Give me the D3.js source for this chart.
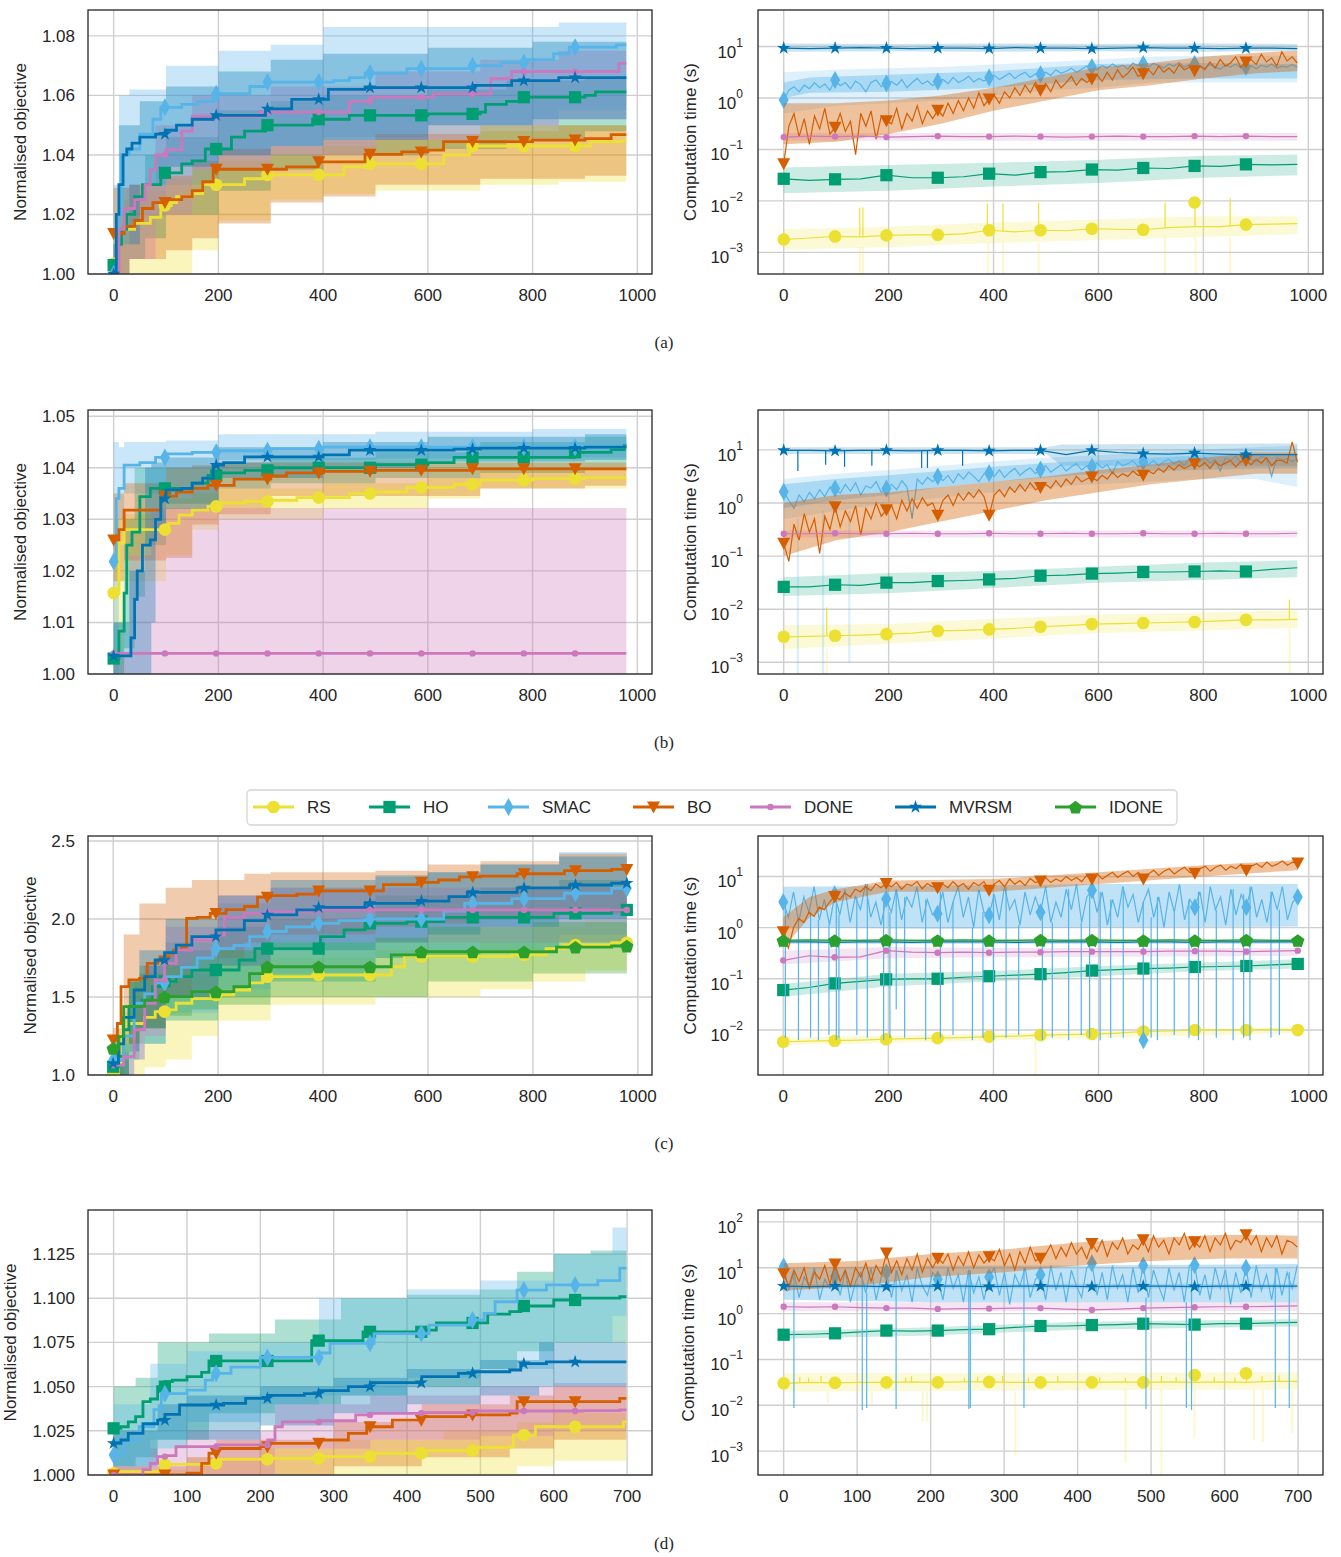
<!DOCTYPE html>
<html>
<head>
<meta charset="utf-8">
<script src="https://cdn.jsdelivr.net/npm/d3@7/dist/d3.min.js"></script>
<style>
  body { margin: 0; background: #fff; }
  text { font-family: "Liberation Sans", Arial, sans-serif; fill: #262626; }
</style>
</head>
<body>
<svg id="fig" width="1341" height="1557"></svg>
<script>
const methods = ["RS", "HO", "SMAC", "BO", "DONE", "MVRSM", "IDONE"];

// ---------- normalised objective: [iteration, value] at each step ----------
const objMeanA = {
  RS: [[0,1.0035],[5,1.015],[40,1.017],[70,1.019],[90,1.023],[110,1.024],[120,1.026],[150,1.027],[170,1.030],[250,1.032],[290,1.0333],[440,1.036],[480,1.037],[630,1.040],[680,1.043],[910,1.0445],[970,1.0448]],
  HO: [[0,1.003],[8,1.01],[15,1.015],[25,1.02],[40,1.026],[55,1.03],[90,1.034],[130,1.037],[150,1.038],[175,1.042],[225,1.046],[250,1.048],[290,1.05],[380,1.052],[450,1.0533],[600,1.0538],[700,1.0544],[710,1.057],[750,1.058],[780,1.0594],[900,1.06],[920,1.0612]],
  SMAC: [[0,1.0],[8,1.02],[15,1.04],[30,1.042],[50,1.047],[75,1.052],[90,1.056],[130,1.057],[160,1.058],[190,1.0606],[260,1.063],[290,1.0645],[420,1.065],[450,1.066],[480,1.0675],[560,1.069],[680,1.07],[740,1.071],[790,1.072],[840,1.074],[870,1.0762],[960,1.077]],
  BO: [[0,1.0136],[20,1.016],[40,1.018],[55,1.022],[75,1.024],[100,1.025],[130,1.026],[150,1.028],[170,1.031],[190,1.0352],[330,1.036],[390,1.0377],[480,1.0402],[550,1.041],[600,1.0416],[630,1.0445],[800,1.045],[900,1.0455],[950,1.0468]],
  DONE: [[0,1.0],[10,1.015],[20,1.022],[40,1.025],[60,1.03],[70,1.035],[80,1.04],[100,1.0418],[130,1.048],[150,1.053],[280,1.0544],[450,1.058],[490,1.0594],[610,1.0605],[720,1.0656],[760,1.068],[965,1.0708]],
  MVRSM: [[0,1.0],[5,1.02],[10,1.03],[18,1.04],[25,1.042],[35,1.044],[50,1.046],[80,1.047],[100,1.0483],[120,1.05],[150,1.052],[190,1.0533],[290,1.0555],[340,1.0587],[410,1.062],[480,1.0626],[690,1.0634],[760,1.065],[850,1.066]]
};
// [iteration, lower, upper]
const objBandA = {
  RS: [[0,1.0,1.015],[20,1.0,1.025],[60,1.0,1.028],[100,1.0,1.032],[150,1.008,1.035],[200,1.018,1.038],[300,1.025,1.04],[400,1.027,1.043],[500,1.028,1.045],[700,1.03,1.048],[850,1.031,1.05]],
  HO: [[0,1.0,1.01],[30,1.005,1.03],[60,1.012,1.04],[100,1.02,1.046],[200,1.028,1.055],[300,1.035,1.058],[400,1.04,1.06],[600,1.042,1.062],[750,1.045,1.065],[900,1.048,1.066]],
  SMAC: [[0,1.0,1.03],[10,1.01,1.06],[30,1.02,1.062],[100,1.03,1.07],[200,1.04,1.075],[300,1.043,1.077],[400,1.046,1.083],[600,1.05,1.083],[850,1.055,1.0845]],
  BO: [[0,1.0,1.029],[30,1.005,1.03],[100,1.008,1.033],[150,1.012,1.038],[200,1.017,1.042],[300,1.024,1.043],[400,1.026,1.045],[500,1.03,1.047],[700,1.032,1.05],[900,1.033,1.05]],
  DONE: [[0,1.0,1.01],[30,1.005,1.03],[80,1.02,1.05],[150,1.035,1.06],[300,1.04,1.063],[500,1.045,1.068],[700,1.05,1.072],[850,1.052,1.075]],
  MVRSM: [[0,1.0,1.01],[10,1.01,1.05],[50,1.03,1.058],[100,1.036,1.063],[200,1.04,1.068],[300,1.043,1.072],[400,1.045,1.074],[600,1.05,1.076],[800,1.052,1.078]]
};

const objMeanB = {
  RS: [[0,1.0157],[10,1.0254],[20,1.028],[105,1.0292],[125,1.0308],[150,1.0318],[180,1.0325],[200,1.0332],[250,1.0335],[300,1.0337],[350,1.0342],[450,1.035],[500,1.0353],[560,1.0362],[650,1.0368],[700,1.0376],[800,1.0379],[900,1.0381]],
  HO: [[0,1.003],[10,1.0083],[20,1.0157],[25,1.025],[35,1.0275],[50,1.0344],[70,1.036],[150,1.037],[180,1.0385],[200,1.039],[250,1.0395],[300,1.04],[500,1.0406],[600,1.041],[650,1.042],[880,1.043],[950,1.0435],[975,1.0443]],
  SMAC: [[0,1.0218],[5,1.034],[10,1.036],[20,1.0405],[50,1.041],[80,1.042],[100,1.0427],[150,1.043],[200,1.0433],[300,1.0437],[400,1.044]],
  BO: [[0,1.026],[10,1.028],[20,1.0318],[90,1.0345],[120,1.0353],[150,1.036],[180,1.0366],[230,1.0378],[300,1.0384],[330,1.039],[400,1.0393],[500,1.0395],[680,1.0398]],
  DONE: [[0,1.004]],
  MVRSM: [[0,1.0035],[33,1.007],[40,1.0145],[45,1.02],[55,1.025],[70,1.026],[80,1.03],[90,1.034],[100,1.0357],[130,1.036],[150,1.037],[170,1.038],[190,1.0405],[210,1.041],[250,1.0421],[400,1.0425],[450,1.0434],[650,1.0436],[700,1.0438],[900,1.044]]
};
const objBandB = {
  RS: [[0,1.0,1.03],[20,1.018,1.031],[100,1.023,1.034],[150,1.028,1.035],[200,1.03,1.036],[400,1.032,1.037],[600,1.034,1.038],[700,1.036,1.0395],[900,1.036,1.04]],
  HO: [[0,1.0,1.01],[20,1.005,1.03],[40,1.015,1.04],[60,1.025,1.04],[100,1.033,1.04],[200,1.036,1.041],[300,1.037,1.042],[500,1.038,1.043],[700,1.039,1.045],[900,1.04,1.046]],
  SMAC: [[0,1.0,1.045],[10,1.03,1.044],[20,1.035,1.045],[100,1.04,1.0453],[200,1.0415,1.0465],[500,1.0418,1.047],[800,1.042,1.0475]],
  BO: [[0,1.018,1.035],[20,1.022,1.037],[100,1.0225,1.04],[150,1.029,1.0405],[200,1.031,1.041],[300,1.0345,1.041],[700,1.036,1.041],[900,1.0365,1.041]],
  DONE: [[0,1.0,1.004],[30,1.0,1.023],[72,1.0,1.0322]],
  MVRSM: [[0,1.0,1.01],[30,1.0,1.02],[60,1.0,1.04],[72,1.01,1.041],[80,1.028,1.041],[100,1.032,1.042],[200,1.038,1.044],[400,1.04,1.045],[600,1.0412,1.046],[900,1.0415,1.0465]]
};

const objMeanC = {
  RS: [[0,1.0],[10,1.075],[18,1.33],[60,1.37],[80,1.406],[98,1.417],[120,1.46],[150,1.49],[190,1.513],[230,1.545],[260,1.59],[285,1.63],[380,1.641],[530,1.694],[555,1.76],[760,1.77],[825,1.81],[860,1.833],[950,1.848]],
  HO: [[0,1.053],[10,1.12],[20,1.29],[30,1.44],[55,1.48],[75,1.566],[95,1.6],[120,1.63],[150,1.673],[240,1.737],[270,1.81],[395,1.887],[440,1.93],[480,1.972],[560,1.983],[630,2.01],[840,2.036],[950,2.058]],
  SMAC: [[0,1.096],[20,1.25],[40,1.46],[60,1.52],[80,1.59],[98,1.63],[130,1.69],[160,1.75],[190,1.81],[230,1.83],[260,1.887],[290,1.92],[330,1.95],[380,1.972],[430,1.99],[480,2.0],[630,2.05],[670,2.1],[760,2.13],[860,2.165],[950,2.197]],
  BO: [[0,1.224],[8,1.33],[15,1.566],[30,1.61],[50,1.62],[65,1.716],[85,1.73],[100,1.78],[115,1.8],[130,1.82],[140,2.004],[160,2.01],[185,2.036],[215,2.06],[250,2.08],[275,2.14],[300,2.15],[350,2.16],[385,2.18],[515,2.22],[580,2.235],[620,2.25],[660,2.27],[700,2.275],[770,2.29],[860,2.31],[950,2.318]],
  DONE: [[0,1.064],[20,1.117],[40,1.29],[60,1.46],[80,1.61],[98,1.716],[120,1.8],[150,1.865],[190,1.897],[212,2.01],[250,2.036],[290,2.047],[380,2.058]],
  MVRSM: [[0,1.075],[10,1.2],[20,1.37],[40,1.545],[60,1.63],[80,1.737],[98,1.784],[120,1.833],[150,1.887],[196,1.93],[250,1.99],[290,2.026],[350,2.058],[388,2.075],[480,2.1],[580,2.115],[640,2.143],[675,2.17],[770,2.2],[870,2.218],[950,2.229]],
  IDONE: [[0,1.171],[10,1.246],[20,1.438],[40,1.44],[60,1.48],[95,1.502],[150,1.534],[230,1.566],[260,1.65],[285,1.694],[530,1.77],[580,1.79],[845,1.82],[950,1.827]]
};
const objBandC = {
  RS: [[0,1.0,1.05],[20,1.0,1.4],[60,1.05,1.5],[100,1.1,1.6],[150,1.25,1.65],[200,1.35,1.7],[300,1.45,1.75],[500,1.5,1.8],[700,1.55,1.85],[800,1.6,1.95],[900,1.67,2.0]],
  HO: [[0,1.0,1.1],[30,1.1,1.6],[50,1.2,1.7],[100,1.35,1.8],[200,1.5,1.95],[300,1.6,2.0],[500,1.75,2.15],[700,1.8,2.2],[850,1.85,2.25]],
  SMAC: [[0,1.0,1.15],[40,1.1,1.6],[60,1.2,1.7],[100,1.4,1.85],[200,1.55,2.1],[300,1.65,2.2],[500,1.75,2.27],[600,1.78,2.3],[700,1.8,2.35],[850,1.9,2.43]],
  BO: [[0,1.0,1.3],[20,1.2,1.9],[50,1.3,2.1],[100,1.5,2.2],[150,1.75,2.25],[250,1.85,2.29],[300,1.9,2.3],[500,1.95,2.31],[600,1.97,2.35],[700,2.0,2.37],[850,2.03,2.42]],
  DONE: [[0,1.0,1.1],[40,1.1,1.5],[60,1.25,1.7],[100,1.5,1.95],[200,1.7,2.15],[300,1.85,2.2],[970,1.85,2.25]],
  MVRSM: [[0,1.0,1.2],[30,1.15,1.6],[50,1.3,1.8],[100,1.5,2.0],[200,1.7,2.15],[300,1.8,2.25],[500,1.85,2.28],[600,1.9,2.3],[700,1.95,2.35],[850,2.0,2.4]],
  IDONE: [[0,1.0,1.25],[30,1.2,1.6],[50,1.3,1.65],[100,1.38,1.7],[150,1.42,1.75],[200,1.45,1.8],[300,1.5,1.85],[500,1.5,1.88],[600,1.6,1.95],[800,1.65,1.98]]
};

const objMeanD = {
  RS: [[0,1.001],[10,1.0019],[60,1.0023],[65,1.006],[130,1.0066],[140,1.0089],[210,1.0094],[280,1.0104],[355,1.0123],[420,1.0138],[490,1.0156],[540,1.016],[545,1.0226],[575,1.0273],[695,1.03]],
  HO: [[0,1.0264],[10,1.0273],[20,1.03],[30,1.033],[40,1.0415],[50,1.043],[60,1.05],[70,1.0528],[80,1.0537],[100,1.0556],[120,1.058],[130,1.0645],[270,1.076],[340,1.081],[420,1.082],[440,1.086],[510,1.091],[540,1.0924],[555,1.0956],[600,1.099],[630,1.1],[690,1.1009]],
  SMAC: [[0,1.0113],[15,1.0198],[35,1.0273],[55,1.037],[65,1.046],[100,1.048],[125,1.0537],[135,1.0575],[160,1.061],[200,1.0665],[280,1.069],[295,1.0745],[355,1.08],[430,1.0848],[485,1.0877],[505,1.0914],[520,1.098],[550,1.1046],[590,1.1075],[660,1.11],[690,1.117]],
  BO: [[0,1.0],[100,1.001],[120,1.0066],[130,1.0123],[140,1.015],[200,1.016],[210,1.0179],[280,1.0198],[320,1.0236],[345,1.0273],[380,1.031],[420,1.033],[480,1.034],[540,1.035],[550,1.0415],[690,1.0434]],
  DONE: [[0,1.0],[35,1.0],[40,1.003],[50,1.0066],[60,1.0104],[70,1.011],[85,1.016],[140,1.017],[210,1.0198],[220,1.0273],[230,1.03],[280,1.0307],[330,1.034],[350,1.0349],[420,1.0353],[490,1.0362],[640,1.0364],[690,1.0368]],
  MVRSM: [[0,1.0179],[10,1.0198],[20,1.0236],[40,1.029],[60,1.031],[70,1.0343],[90,1.0396],[150,1.0405],[180,1.0434],[210,1.045],[260,1.046],[280,1.0477],[320,1.05],[350,1.0522],[420,1.0556],[470,1.0575],[490,1.0584],[540,1.0594],[555,1.063],[590,1.064]]
};
const objBandD = {
  RS: [[0,1.0,1.003],[100,1.0,1.01],[200,1.0,1.015],[300,1.0,1.02],[450,1.0,1.025],[550,1.005,1.03],[600,1.008,1.035]],
  HO: [[0,1.005,1.05],[30,1.01,1.055],[60,1.02,1.075],[130,1.035,1.08],[220,1.04,1.088],[310,1.045,1.1],[400,1.05,1.102],[500,1.06,1.105],[550,1.07,1.115],[600,1.075,1.125],[650,1.075,1.127]],
  SMAC: [[0,1.003,1.04],[50,1.02,1.063],[100,1.03,1.07],[200,1.04,1.075],[280,1.045,1.1],[400,1.055,1.105],[500,1.06,1.11],[600,1.075,1.125],[680,1.09,1.14]],
  BO: [[0,1.0,1.005],[100,1.0,1.01],[140,1.0,1.02],[300,1.005,1.03],[420,1.01,1.04],[540,1.015,1.045],[600,1.02,1.05]],
  DONE: [[0,1.0,1.005],[50,1.0,1.015],[100,1.0,1.025],[220,1.015,1.04],[350,1.02,1.045],[500,1.022,1.05],[600,1.025,1.052]],
  MVRSM: [[0,1.005,1.025],[60,1.015,1.04],[100,1.02,1.045],[200,1.028,1.05],[300,1.035,1.055],[400,1.04,1.06],[500,1.045,1.065],[580,1.05,1.075]]
};

// ---------- computation time: log10(seconds), evenly spaced over the run ----------
const timeA = {
  RS: [-2.75,-2.72,-2.69,-2.7,-2.67,-2.66,-2.66,-2.64,-2.57,-2.6,-2.57,-2.58,-2.54,-2.55,-2.56,-2.52,-2.5,-2.5,-2.46,-2.45,-2.44],
  HO: [-1.57,-1.6,-1.58,-1.57,-1.5,-1.55,-1.55,-1.53,-1.47,-1.5,-1.44,-1.43,-1.39,-1.4,-1.36,-1.37,-1.32,-1.33,-1.29,-1.3,-1.29],
  SMAC: [-0.04,0.15,0.22,0.12,0.25,0.18,0.3,0.2,0.27,0.15,0.35,
    0.24,0.3,0.18,0.33,0.26,0.12,0.3,0.35,0.22,0.28,
    0.32,0.25,0.36,0.2,0.3,0.38,0.27,0.33,0.24,0.32,
    0.36,0.28,0.4,0.3,0.35,0.42,0.31,0.38,0.33,0.4,
    0.44,0.36,0.42,0.48,0.38,0.45,0.5,0.4,0.47,0.46,
    0.5,0.44,0.55,0.48,0.52,0.58,0.5,0.56,0.62,0.6,
    0.55,0.63,0.58,0.66,0.6,0.64,0.56,0.68,0.62,0.66,
    0.6,0.67,0.63,0.58,0.66,0.62,0.69,0.6,0.65,0.66,
    0.62,0.58,0.65,0.6,0.56,0.64,0.6,0.66,0.58,0.6,
    0.63,0.57,0.64,0.6,0.66,0.58,0.62,0.6,0.65,0.6],
  BO: [-1.28,-0.55,-0.3,-0.75,-0.4,-0.9,-0.35,-0.6,-0.2,-0.7,-0.57,
    -0.3,-0.65,-0.45,-1.1,-0.3,-0.55,-0.25,-0.8,-0.35,-0.44,
    -0.5,-0.2,-0.6,-0.3,-0.45,-0.15,-0.5,-0.25,-0.4,-0.24,
    -0.35,-0.1,-0.3,-0.05,-0.25,0.0,-0.2,0.1,-0.15,-0.02,
    0.05,-0.1,0.12,0.0,0.2,0.05,0.25,0.1,0.3,0.15,
    0.28,0.12,0.35,0.2,0.3,0.42,0.25,0.38,0.3,0.37,
    0.45,0.32,0.5,0.35,0.55,0.4,0.48,0.6,0.42,0.47,
    0.55,0.45,0.62,0.5,0.58,0.48,0.65,0.55,0.6,0.53,
    0.62,0.55,0.7,0.58,0.75,0.62,0.68,0.8,0.6,0.7,
    0.75,0.65,0.85,0.7,0.78,0.62,0.9,0.72,0.8,0.68],
  DONE: [-0.76,-0.74,-0.75,-0.74,-0.76,-0.75,-0.74,-0.75,-0.75,-0.74,-0.75,-0.76,-0.75,-0.74,-0.75,-0.75,-0.74,-0.75,-0.74,-0.75,-0.75],
  MVRSM: [0.97,0.96,0.97,0.98,0.97,0.96,0.97,0.97,0.96,0.98,0.97,0.97,0.96,0.97,0.98,0.97,0.97,0.96,0.97,0.97,0.96]
};
const spikeA = { RS: [[145,-2.13],[151,-2.13],[388,-2.05],[418,-2.05],[486,-2.03],[727,-2.03],[784,-2.03],[851,-1.95]] };
// spread of the dense per-iteration noise: [iteration, low, high]
const envA = {
  SMAC: [[0,0.0,0.3],[50,0.1,0.4],[200,0.12,0.45],[400,0.2,0.52],[600,0.35,0.66],[800,0.38,0.68],[979,0.38,0.66]],
  BO: [[0,-0.9,-0.1],[100,-0.85,-0.1],[200,-0.7,-0.05],[300,-0.5,0.05],[400,-0.25,0.2],[500,-0.05,0.4],[600,0.15,0.6],[700,0.25,0.68],[800,0.38,0.8],[900,0.48,0.88],[979,0.52,0.92]]
};
const timeBandA = {
  RS: [[0,-2.95,-2.55],[200,-2.9,-2.5],[400,-2.82,-2.42],[600,-2.76,-2.36],[800,-2.7,-2.3],[979,-2.65,-2.3]],
  HO: [[0,-1.85,-1.35],[200,-1.8,-1.3],[400,-1.72,-1.26],[600,-1.65,-1.2],[800,-1.55,-1.12],[979,-1.5,-1.1]],
  SMAC: [[0,-0.3,0.5],[100,-0.15,0.55],[200,-0.1,0.58],[300,-0.05,0.6],[400,0.05,0.65],[500,0.15,0.7],[600,0.2,0.75],[700,0.3,0.8],[800,0.3,0.82],[979,0.3,0.82]],
  DONE: [[0,-0.83,-0.68],[979,-0.83,-0.68]],
  MVRSM: [[0,0.9,1.06],[200,0.91,1.05],[400,0.9,1.06],[600,0.91,1.05],[800,0.9,1.06],[979,0.91,1.05]]
};
const dipA = { RS: [[145,-3.42],[151,-3.42],[390,-3.42],[418,-3.42],[486,-3.42],[727,-3.42],[785,-3.42],[851,-3.42]] };

const timeB = {
  RS: [-2.52,-2.51,-2.5,-2.49,-2.47,-2.45,-2.41,-2.4,-2.38,-2.36,-2.33,-2.31,-2.28,-2.27,-2.26,-2.25,-2.24,-2.22,-2.2,-2.2,-2.19],
  HO: [-1.58,-1.58,-1.54,-1.55,-1.5,-1.5,-1.47,-1.46,-1.44,-1.42,-1.37,-1.36,-1.33,-1.32,-1.3,-1.3,-1.29,-1.28,-1.29,-1.25,-1.22],
  SMAC: [0.21,0.05,-0.1,0.15,0.02,0.2,0.08,0.25,0.12,0.3,0.27,
    0.18,0.35,0.22,0.38,0.15,0.32,0.28,0.4,0.2,0.27,
    0.35,0.25,0.42,0.3,-0.3,0.45,0.35,0.48,0.4,0.5,
    0.42,0.52,0.38,0.55,0.45,0.58,0.5,0.4,0.55,0.56,
    0.5,0.62,0.48,0.58,0.65,0.52,0.6,0.66,0.55,0.63,
    0.7,0.58,0.65,0.72,0.6,0.68,0.74,0.62,0.7,0.68,
    0.75,0.66,0.72,0.55,0.78,0.7,0.74,0.8,0.68,0.77,
    0.72,0.8,0.7,0.78,0.82,0.74,0.8,0.7,0.85,0.83,
    0.78,0.86,0.75,0.82,0.6,0.85,0.8,0.88,0.76,0.86,
    0.82,0.78,0.88,0.84,0.5,0.86,0.8,0.84,0.78,0.83],
  BO: [-0.76,-1.1,-0.4,-0.7,-0.2,-0.55,-0.3,-0.95,-0.25,-0.5,-0.07,
    -0.45,-0.15,-0.35,-0.05,-0.6,-0.1,-0.3,0.0,-0.25,-0.13,
    -0.05,-0.3,0.05,-0.15,0.08,-0.1,0.1,-0.05,0.0,-0.23,
    0.05,0.15,-0.05,0.18,0.05,0.2,0.1,0.25,0.12,-0.23,
    0.15,0.25,0.12,0.3,0.2,0.35,0.22,0.38,0.25,0.29,
    0.35,0.28,0.42,0.3,0.45,0.35,0.5,0.4,0.45,0.49,
    0.42,0.52,0.45,0.58,0.48,0.55,0.5,0.6,0.52,0.52,
    0.6,0.55,0.65,0.58,0.7,0.62,0.72,0.65,0.7,0.74,
    0.68,0.76,0.65,0.78,0.7,0.75,0.8,0.68,0.78,0.8,
    0.72,0.82,0.75,0.85,0.7,0.8,0.8,0.75,1.15,0.77],
  DONE: [-0.58,-0.58,-0.57,-0.58,-0.58,-0.57,-0.58,-0.58,-0.57,-0.58,-0.58,-0.57,-0.58,-0.58,-0.57,-0.58,-0.58,-0.57,-0.58,-0.58,-0.57],
  MVRSM: [0.99,0.99,0.98,0.99,0.99,0.98,0.99,0.99,0.98,0.99,0.99,0.91,0.99,0.95,0.93,0.92,0.94,0.92,0.91,0.91,0.91]
};
const spikeB = {
  RS: [[82,-1.97],[964,-1.82]],
  MVRSM: [[27,0.6],[80,0.72],[116,0.68],[168,0.7],[263,0.66],[274,0.66],[341,0.7]]
};
const envB = {
  SMAC: [[0,-0.1,0.35],[100,0.05,0.45],[200,0.15,0.52],[300,0.3,0.6],[400,0.4,0.68],[500,0.48,0.75],[600,0.55,0.8],[700,0.6,0.85],[800,0.62,0.9],[900,0.65,0.92],[979,0.65,0.92]],
  BO: [[0,-1.0,0.0],[100,-0.7,0.15],[200,-0.55,0.2],[300,-0.35,0.3],[400,-0.15,0.4],[500,0.05,0.5],[600,0.2,0.62],[700,0.35,0.72],[800,0.45,0.85],[900,0.55,0.95],[979,0.55,0.95]]
};
const timeBandB = {
  RS: [[0,-2.75,-2.3],[200,-2.65,-2.28],[400,-2.55,-2.18],[600,-2.45,-2.1],[800,-2.4,-2.06],[979,-2.35,-2.02]],
  HO: [[0,-1.75,-1.4],[200,-1.7,-1.32],[400,-1.6,-1.28],[600,-1.5,-1.2],[800,-1.45,-1.12],[979,-1.4,-1.08]],
  SMAC: [[0,-0.3,0.45],[100,-0.15,0.55],[200,0.0,0.62],[300,0.1,0.7],[400,0.2,0.78],[500,0.3,0.85],[600,0.35,0.9],[700,0.4,0.95],[800,0.45,1.0],[900,0.45,1.05],[979,0.3,1.08]],
  DONE: [[0,-0.65,-0.52],[979,-0.65,-0.52]],
  MVRSM: [[0,0.92,1.05],[500,0.92,1.05],[530,0.7,1.1],[979,0.7,1.12]]
};
const dipB = { RS: [[82,-3.22],[964,-3.22]], SMAC: [[27,-3.22],[75,-3.22],[125,-3.0]] };

const timeC = {
  RS: [-2.23,-2.22,-2.21,-2.2,-2.18,-2.17,-2.16,-2.15,-2.13,-2.12,-2.1,-2.09,-2.08,-2.06,-2.03,-2.02,-2.0,-2.0,-2.0,-1.99,-2.0],
  HO: [-1.22,-1.17,-1.09,-1.05,-1.01,-1.0,-1.0,-0.97,-0.95,-0.93,-0.91,-0.88,-0.84,-0.82,-0.8,-0.79,-0.77,-0.76,-0.75,-0.73,-0.71],
  SMAC: [0.5,0.2,0.7,0.1,0.6,0.3,0.8,0.15,0.55,0.05,0.65,
    0.25,0.75,0.1,0.6,0.35,0.85,0.2,0.5,0.05,0.56,
    0.3,0.75,0.15,0.6,0.4,0.8,0.1,0.55,0.25,0.27,
    0.7,0.1,0.5,0.8,0.2,0.6,0.0,0.75,0.3,0.24,
    0.65,0.15,0.8,0.35,0.55,0.05,0.7,0.25,0.6,0.3,
    0.8,0.1,0.5,0.2,0.75,0.35,0.85,0.1,0.6,0.73,
    0.3,0.7,0.05,0.55,0.2,0.8,0.4,0.65,0.1,0.5,
    0.75,0.2,0.6,0.0,0.7,0.3,0.85,0.15,0.55,0.4,
    0.7,0.1,0.8,0.35,0.6,0.05,0.75,0.25,0.65,0.4,
    0.8,0.2,0.55,0.1,0.7,0.35,0.8,0.15,0.5,0.6],
  BO: [-0.08,-0.4,0.0,0.18,0.1,0.3,0.22,0.4,0.35,0.5,0.61,
    0.55,0.68,0.6,0.75,0.7,0.8,0.72,0.85,0.78,0.86,
    0.8,0.88,0.75,0.85,0.82,0.9,0.76,0.86,0.8,0.78,
    0.85,0.78,0.9,0.8,0.86,0.75,0.88,0.82,0.9,0.73,
    0.85,0.92,0.8,0.95,0.85,0.92,0.82,0.96,0.88,0.91,
    0.98,0.88,0.95,0.9,1.0,0.92,0.98,0.9,1.02,0.95,
    1.05,0.95,1.02,1.08,0.98,1.05,1.1,1.0,1.08,0.95,
    1.05,1.12,1.02,1.1,1.15,1.05,1.12,1.18,1.08,1.06,
    1.15,1.2,1.1,1.18,1.22,1.12,1.2,1.15,1.24,1.12,
    1.2,1.25,1.18,1.28,1.2,1.24,1.3,1.22,1.28,1.26],
  DONE: [-0.64,-0.55,-0.58,-0.57,-0.45,-0.48,-0.49,-0.48,-0.49,-0.48,-0.48,-0.47,-0.47,-0.47,-0.47,-0.46,-0.46,-0.46,-0.47,-0.46,-0.45],
  MVRSM: [-0.28,-0.28,-0.29,-0.28,-0.28,-0.29,-0.28,-0.28,-0.28,-0.29,-0.28,-0.28,-0.28,-0.29,-0.28,-0.28,-0.29,-0.28,-0.28,-0.28,-0.28],
  IDONE: [-0.25,-0.24,-0.25,-0.25,-0.24,-0.25,-0.25,-0.24,-0.25,-0.25,-0.24,-0.25,-0.24,-0.25,-0.25,-0.24,-0.25,-0.25,-0.24,-0.25,-0.25]
};
const spikeC = {
  SMAC: [[4,-2.15],[29,-2.2],[52,-2.15],[67,-2.2],[87,-2.1],[101,-2.2],[106,-2.15],[140,-2.1],[160,-2.15],[191,-2.2],[203,-2.15],[215,-1.6],[231,-2.15],[271,-2.2],[299,-2.15],[323,-2.1],[360,-2.2],[380,-2.15],[400,-2.2],[424,-2.15],[448,-2.1],[493,-2.2],[512,-2.15],[543,-2.2],[567,-2.1],[583,-2.15],[603,-2.2],[623,-2.15],[647,-2.15],[685,-2.2],[700,-2.15],[712,-2.2],[744,-2.1],[772,-2.15],[790,-2.2],[824,-2.15],[856,-2.2],[876,-2.15],[888,-2.2],[928,-2.15],[944,-2.1]]
};
const envC = {
  SMAC: [[0,0.0,0.8],[300,-0.02,0.82],[600,0.0,0.85],[979,0.02,0.85]],
  BO: [[0,-0.4,0.2],[50,0.2,0.6],[100,0.5,0.75],[200,0.7,0.92],[400,0.7,0.95],[600,0.85,1.08],[800,1.0,1.22],[979,1.12,1.32]]
};
const timeBandC = {
  RS: [[0,-2.3,-2.15],[500,-2.18,-2.05],[979,-2.06,-1.95]],
  HO: [[0,-1.35,-1.1],[200,-1.15,-0.9],[400,-1.05,-0.85],[600,-0.95,-0.75],[800,-0.85,-0.68],[979,-0.8,-0.62]],
  DONE: [[0,-0.72,-0.45],[200,-0.6,-0.38],[400,-0.58,-0.4],[979,-0.55,-0.4]],
  MVRSM: [[0,-0.32,-0.24],[979,-0.32,-0.24]],
  IDONE: [[0,-0.28,-0.22],[979,-0.28,-0.22]]
};
const dipC = { RS: [[480,-2.88]] };

const timeD = {
  RS: [-1.52,-1.5,-1.51,-1.5,-1.5,-1.49,-1.5,-1.49,-1.49,-1.5,-1.5,-1.49,-1.5,-1.49,-1.5,-1.49,-1.5,-1.49,-1.5,-1.48,-1.48],
  HO: [-0.46,-0.45,-0.43,-0.4,-0.37,-0.38,-0.37,-0.35,-0.34,-0.3,-0.27,-0.27,-0.25,-0.24,-0.22,-0.23,-0.24,-0.22,-0.22,-0.2,-0.19],
  SMAC: [1.03,0.5,0.9,0.35,0.8,0.6,1.0,0.3,0.75,0.55,0.81,
    0.4,0.95,0.25,0.7,0.9,0.45,1.0,0.3,0.8,0.9,
    0.35,0.95,0.5,0.85,0.25,1.0,0.6,0.4,0.9,0.75,
    0.3,1.0,0.55,0.85,0.25,0.95,0.45,0.8,0.3,0.8,
    1.0,0.4,0.9,0.2,0.85,0.6,1.0,0.35,0.75,0.85,
    0.3,1.05,0.5,0.9,0.25,0.95,0.6,0.35,1.0,1.1,
    0.4,0.9,0.3,1.05,0.55,0.85,0.25,1.0,0.45,1.05,
    0.35,0.95,0.6,0.3,1.0,0.5,0.9,0.25,1.05,1.06,
    0.4,0.85,0.3,1.0,0.55,0.95,0.2,0.9,0.45,1.0,
    0.35,1.05,0.5,0.85,0.3,1.0,0.4,0.9,0.55,1.05],
  BO: [0.87,0.6,0.95,0.7,1.0,0.55,0.9,0.75,1.05,0.65,1.08,
    0.7,0.95,0.6,1.0,0.8,1.1,0.7,1.05,0.85,1.32,
    0.9,1.15,0.85,1.2,0.95,1.3,0.9,1.2,1.0,1.21,
    1.1,1.3,0.95,1.25,1.05,1.35,1.0,1.28,1.1,1.24,
    1.15,1.4,1.05,1.3,0.95,1.35,1.1,1.45,1.15,1.21,
    1.3,1.5,1.2,1.45,1.25,1.55,1.3,1.45,1.2,1.53,
    1.35,1.6,1.25,1.55,1.4,1.65,1.3,1.5,1.4,1.61,
    1.35,1.7,1.45,1.6,1.3,1.65,1.5,1.75,1.4,1.57,
    1.45,1.7,1.35,1.65,1.5,1.75,1.4,1.6,1.55,1.72,
    1.5,1.7,1.35,1.65,1.45,1.7,1.3,1.6,1.55,1.45],
  DONE: [0.15,0.14,0.15,0.13,0.12,0.12,0.1,0.11,0.11,0.12,0.12,0.1,0.08,0.1,0.12,0.13,0.14,0.15,0.15,0.16,0.17],
  MVRSM: [0.6,0.59,0.6,0.6,0.59,0.6,0.6,0.6,0.59,0.6,0.6,0.6,0.59,0.6,0.6,0.6,0.59,0.6,0.6,0.6,0.6]
};
const spikeD = {
  RS: [[22,-1.38],[34,-1.4],[51,-1.36],[66,-1.38],[143,-1.38],[166,-1.4],[174,-1.36],[212,-1.38],[246,-1.4],[264,-1.38],[298,-1.36],[333,-1.4],[354,-1.38],[373,-1.36],[430,-1.38],[465,-1.4],[514,-1.36],[534,-1.38],[560,-1.34],[586,-1.38],[614,-1.4],[630,-1.3],[651,-1.36],[674,-1.35]],
  SMAC: [[14,-2.06],[107,-2.1],[113,-2.06],[153,-2.08],[252,-2.08],[254,-2.06],[327,-2.06],[493,-2.08],[548,-2.06],[555,-2.1],[669,-2.06],[688,-2.06]]
};
const envD = {
  SMAC: [[0,0.3,1.0],[200,0.25,1.05],[400,0.25,1.05],[699,0.25,1.08]],
  BO: [[0,0.5,1.1],[100,0.6,1.15],[200,0.8,1.3],[300,0.9,1.4],[400,1.05,1.55],[500,1.15,1.65],[600,1.2,1.72],[699,1.2,1.7]]
};
const timeBandD = {
  RS: [[0,-1.7,-1.3],[699,-1.65,-1.28]],
  HO: [[0,-0.55,-0.38],[200,-0.48,-0.3],[400,-0.35,-0.18],[699,-0.28,-0.12]],
  DONE: [[0,0.05,0.25],[699,0.05,0.25]],
  MVRSM: [[0,0.55,0.65],[699,0.55,0.65]]
};
const dipD = { RS: [[60,-1.95],[120,-2.0],[189,-2.35],[195,-2.35],[315,-3.1],[465,-3.26],[514,-3.52],[559,-2.7],[640,-2.75],[652,-2.8],[692,-2.6]] };

// ---------- style ----------
const colors = { RS: "#ece133", HO: "#029e73", SMAC: "#56b4e9", BO: "#d55e00", DONE: "#cc78bc", MVRSM: "#0173b2", IDONE: "#2ca02c" };
const shapes = { RS: "circle", HO: "square", SMAC: "thin_diamond", BO: "tri_down", DONE: "dot", MVRSM: "star", IDONE: "pentagon" };

const svg = d3.select("#fig");
let clipN = 0;

function pentagon(r) {
  const pts = d3.range(5).map(k => {
    const a = -Math.PI / 2 + k * 2 * Math.PI / 5;
    return [r * Math.cos(a), r * Math.sin(a) + 0.8];
  });
  return "M" + pts.map(p => p.join(",")).join("L") + "Z";
}

function symbolPath(shape) {
  switch (shape) {
    case "circle": return d3.symbol(d3.symbolCircle, 125)();
    case "square": return d3.symbol(d3.symbolSquare, 150)();
    case "thin_diamond": return "M0,-9L5,0L0,9L-5,0Z";
    case "tri_down": return "M-6.5,-5.5L6.5,-5.5L0,6.5Z";
    case "dot": return d3.symbol(d3.symbolCircle, 32)();
    case "star": return d3.symbol(d3.symbolStar, 55)();
    case "pentagon": return pentagon(7);
  }
}

function stepAt(pairs, it) {
  let v = pairs[0][1];
  pairs.forEach(p => { if (p[0] <= it + 1e-9) v = p[1]; });
  return v;
}

function addClip(box) {
  const id = "clip" + (clipN++);
  svg.append("clipPath").attr("id", id).append("rect")
    .attr("x", box.x0).attr("y", box.y0)
    .attr("width", box.x1 - box.x0).attr("height", box.y1 - box.y0);
  return id;
}

function grid(g, box, xs, ys) {
  g.selectAll(null).data(xs).join("line")
    .attr("x1", d => d).attr("x2", d => d).attr("y1", box.y0).attr("y2", box.y1)
    .attr("stroke", "#cfcfcf").attr("stroke-width", 1.4);
  g.selectAll(null).data(ys).join("line")
    .attr("x1", box.x0).attr("x2", box.x1).attr("y1", d => d).attr("y2", d => d)
    .attr("stroke", "#cfcfcf").attr("stroke-width", 1.4);
}

function frame(g, box) {
  g.append("rect").attr("x", box.x0).attr("y", box.y0)
    .attr("width", box.x1 - box.x0).attr("height", box.y1 - box.y0)
    .attr("fill", "none").attr("stroke", "#262626").attr("stroke-width", 1.3);
}

function xLabels(g, box, x, ticks) {
  g.selectAll(null).data(ticks).join("text")
    .attr("x", d => x(d)).attr("y", box.y1 + 27)
    .attr("text-anchor", "middle").attr("font-size", 17).text(d => d);
}

function yTitle(g, box, cx, label) {
  g.append("text")
    .attr("transform", `translate(${cx},${(box.y0 + box.y1) / 2}) rotate(-90)`)
    .attr("text-anchor", "middle").attr("dominant-baseline", "central")
    .attr("font-size", 17).text(label);
}

function drawObjective(cfg) {
  const box = cfg.box;
  const x = d3.scaleLinear().domain(cfg.xDomain).range([box.x0, box.x1]);
  const y = d3.scaleLinear().domain(cfg.yDomain).range([box.y1, box.y0]);
  const g = svg.append("g");
  grid(g, box, cfg.xTicks.map(x), cfg.yTicks.map(y));
  const plot = g.append("g").attr("clip-path", `url(#${addClip(box)})`);
  const ms = methods.filter(m => cfg.mean[m]);

  const area = d3.area().x(d => x(d[0])).y0(d => y(d[1])).y1(d => y(d[2])).curve(d3.curveStepAfter);
  ms.forEach(m => {
    const b = cfg.band[m];
    const last = b[b.length - 1];
    plot.append("path").attr("d", area(b.concat([[cfg.xEnd, last[1], last[2]]])))
      .attr("fill", colors[m]).attr("fill-opacity", 0.32);
  });

  const line = d3.line().x(d => x(d[0])).y(d => y(d[1])).curve(d3.curveStepAfter);
  ms.forEach(m => {
    const s = cfg.mean[m];
    plot.append("path").attr("d", line(s.concat([[cfg.xEnd, s[s.length - 1][1]]])))
      .attr("fill", "none").attr("stroke", colors[m]).attr("stroke-width", 2.8);
    d3.range(cfg.nMark).forEach(k => {
      const it = k * cfg.markEvery;
      plot.append("path").attr("d", symbolPath(shapes[m]))
        .attr("transform", `translate(${x(it)},${y(stepAt(s, it))})`)
        .attr("fill", colors[m]);
    });
  });

  frame(g, box);
  xLabels(g, box, x, cfg.xTicks);
  const f = d3.format(cfg.yFmt);
  g.selectAll(null).data(cfg.yTicks).join("text")
    .attr("x", box.x0 - 13).attr("y", d => y(d) + 6)
    .attr("text-anchor", "end").attr("font-size", 17).text(d => f(d));
  yTitle(g, box, cfg.titleX, "Normalised objective");
}

function drawTime(cfg) {
  const box = cfg.box;
  const p = v => Math.pow(10, v);
  const x = d3.scaleLinear().domain(cfg.xDomain).range([box.x0, box.x1]);
  const y = d3.scaleLog().domain([p(cfg.lv[0]), p(cfg.lv[1])]).range([box.y1, box.y0]);
  const g = svg.append("g");
  grid(g, box, cfg.xTicks.map(x), cfg.exps.map(e => y(p(e))));
  const plot = g.append("g").attr("clip-path", `url(#${addClip(box)})`);
  const ms = methods.filter(m => cfg.time[m]);

  const area = d3.area().x(d => x(d[0])).y0(d => y(p(d[1]))).y1(d => y(p(d[2])));
  ms.forEach(m => {
    const b = cfg.band[m];
    if (!b) return;
    plot.append("path").attr("d", area(b)).attr("fill", colors[m]).attr("fill-opacity", 0.2);
    (cfg.dips[m] || []).forEach(dp => {
      const near = b.reduce((a, c) => (Math.abs(c[0] - dp[0]) < Math.abs(a[0] - dp[0]) ? c : a));
      plot.append("line").attr("x1", x(dp[0])).attr("x2", x(dp[0]))
        .attr("y1", y(p(near[1]))).attr("y2", y(p(dp[1])))
        .attr("stroke", colors[m]).attr("stroke-opacity", 0.22).attr("stroke-width", 2.2);
    });
  });

  const line = d3.line().x(d => x(d[0])).y(d => y(p(d[1])));
  ms.forEach(m => {
    const vals = cfg.time[m];
    const step = cfg.xEnd / (vals.length - 1);
    if (cfg.env[m]) {
      plot.append("path").attr("d", area(cfg.env[m]))
        .attr("fill", colors[m]).attr("fill-opacity", 0.38);
    }
    const pts = vals.map((v, i) => [i * step, v]);
    plot.append("path").attr("d", line(pts))
      .attr("fill", "none").attr("stroke", colors[m]).attr("stroke-width", 1.2);
    const spikes = cfg.spikes[m] || [];
    spikes.forEach(sp => {
      const base = vals[Math.round(sp[0] / step)];
      plot.append("line").attr("x1", x(sp[0])).attr("x2", x(sp[0]))
        .attr("y1", y(p(base))).attr("y2", y(p(sp[1])))
        .attr("stroke", colors[m]).attr("stroke-width", 1.2);
    });
    const every = vals.length > 50 ? 10 : 2;
    for (let i = 0; i < vals.length; i += every) {
      if (i === vals.length - 1 && !cfg.markLast) continue;
      const it = i * step;
      const sp = spikes.find(s => Math.abs(s[0] - it) <= 2);
      const v = sp ? sp[1] : vals[i];
      plot.append("path").attr("d", symbolPath(shapes[m]))
        .attr("transform", `translate(${x(it)},${y(p(v))})`)
        .attr("fill", colors[m]);
    }
  });

  frame(g, box);
  xLabels(g, box, x, cfg.xTicks);
  const lab = g.selectAll(null).data(cfg.exps).join("text")
    .attr("x", box.x0 - 15).attr("y", d => y(p(d)) + 11)
    .attr("text-anchor", "end").attr("font-size", 17);
  lab.append("tspan").text("10");
  lab.append("tspan").attr("dy", -11).attr("font-size", 12)
    .text(d => (d < 0 ? "\u2212" + (-d) : String(d)));
  yTitle(g, box, cfg.titleX, "Computation time (s)");
}

// ---------- layout ----------
const leftX = [88, 652], rightX = [758, 1323];
const rows = { a: [10, 274], b: [410, 674], c: [836, 1075], d: [1210, 1475] };
const boxOf = (xr, row) => ({ x0: xr[0], x1: xr[1], y0: rows[row][0], y1: rows[row][1] });
const ticks1000 = [0, 200, 400, 600, 800, 1000];
const ticks700 = [0, 100, 200, 300, 400, 500, 600, 700];

drawObjective({ box: boxOf(leftX, "a"), mean: objMeanA, band: objBandA, xDomain: [-49, 1028], xTicks: ticks1000, xEnd: 979, markEvery: 97.9, nMark: 10,
  yDomain: [1.0, 1.0887], yTicks: [1.0, 1.02, 1.04, 1.06, 1.08], yFmt: ".2f", titleX: 20 });
drawObjective({ box: boxOf(leftX, "b"), mean: objMeanB, band: objBandB, xDomain: [-49, 1028], xTicks: ticks1000, xEnd: 979, markEvery: 97.9, nMark: 10,
  yDomain: [1.0, 1.0512], yTicks: [1.0, 1.01, 1.02, 1.03, 1.04, 1.05], yFmt: ".2f", titleX: 20 });
drawObjective({ box: boxOf(leftX, "c"), mean: objMeanC, band: objBandC, xDomain: [-48, 1027], xTicks: ticks1000, xEnd: 979, markEvery: 97.9, nMark: 11,
  yDomain: [1.0, 2.532], yTicks: [1.0, 1.5, 2.0, 2.5], yFmt: ".1f", titleX: 30 });
drawObjective({ box: boxOf(leftX, "d"), mean: objMeanD, band: objBandD, xDomain: [-34.9, 733.9], xTicks: ticks700, xEnd: 699, markEvery: 69.9, nMark: 10,
  yDomain: [1.0, 1.1499], yTicks: [1.0, 1.025, 1.05, 1.075, 1.1, 1.125], yFmt: ".3f", titleX: 10 });

drawTime({ box: boxOf(rightX, "a"), time: timeA, spikes: spikeA, env: envA, band: timeBandA, dips: dipA, xDomain: [-49, 1028], xTicks: ticks1000, xEnd: 979, markLast: false,
  lv: [-3.42, 1.71], exps: [-3, -2, -1, 0, 1], titleX: 690 });
drawTime({ box: boxOf(rightX, "b"), time: timeB, spikes: spikeB, env: envB, band: timeBandB, dips: dipB, xDomain: [-49, 1028], xTicks: ticks1000, xEnd: 979, markLast: false,
  lv: [-3.22, 1.75], exps: [-3, -2, -1, 0, 1], titleX: 690 });
drawTime({ box: boxOf(rightX, "c"), time: timeC, spikes: spikeC, env: envC, band: timeBandC, dips: dipC, xDomain: [-48, 1027], xTicks: ticks1000, xEnd: 979, markLast: true,
  lv: [-2.88, 1.79], exps: [-2, -1, 0, 1], titleX: 690 });
drawTime({ box: boxOf(rightX, "d"), time: timeD, spikes: spikeD, env: envD, band: timeBandD, dips: dipD, xDomain: [-34.9, 733.9], xTicks: ticks700, xEnd: 699, markLast: false,
  lv: [-3.52, 2.26], exps: [-3, -2, -1, 0, 1, 2], titleX: 688 });

// ---------- sub-figure captions ----------
[["(a)", 348], ["(b)", 748], ["(c)", 1149], ["(d)", 1549]].forEach(([t, yy]) => {
  svg.append("text").attr("x", 664).attr("y", yy).attr("text-anchor", "middle")
    .attr("font-size", 17).style("font-family", "'Liberation Serif', 'Times New Roman', serif").text(t);
});

// ---------- legend ----------
const legend = svg.append("g");
legend.append("rect").attr("x", 247).attr("y", 790).attr("width", 930).attr("height", 35).attr("rx", 4)
  .attr("fill", "#fff").attr("stroke", "#d4d4d4").attr("stroke-width", 1.3);
const legendX = [253, 369, 488, 633, 750, 895, 1055];
methods.forEach((m, i) => {
  const lx = legendX[i];
  legend.append("line").attr("x1", lx).attr("x2", lx + 41).attr("y1", 807).attr("y2", 807)
    .attr("stroke", colors[m]).attr("stroke-width", 2.8);
  legend.append("path").attr("d", symbolPath(shapes[m])).attr("transform", `translate(${lx + 20.5},807)`).attr("fill", colors[m]);
  legend.append("text").attr("x", lx + 54).attr("y", 813).attr("font-size", 17).text(m);
});
</script>
</body>
</html>
